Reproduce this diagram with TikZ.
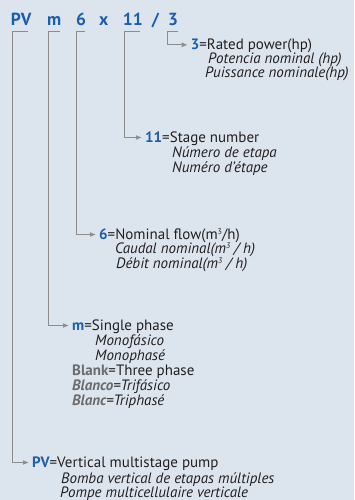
\documentclass[tikz,border=0pt]{standalone}
\usepackage{fontspec}
\setmainfont{PT Sans}
\usetikzlibrary{arrows}

\definecolor{bgblue}{HTML}{DCE5EE}
\definecolor{codeblue}{HTML}{1B5EAA}
\definecolor{linegray}{HTML}{8C8C8C}
\definecolor{blankgray}{HTML}{6B6B6B}
\definecolor{txt}{HTML}{231F20}

\tikzset{
  code/.style={anchor=base west,inner sep=0pt,font=\fontsize{17.5}{17.5}\selectfont\bfseries,text=codeblue},
  desc/.style={anchor=base west,inner sep=0pt,text height=9pt,text depth=0pt,font=\fontsize{15}{15}\selectfont,text=txt},
  trans/.style={desc,font=\fontsize{15}{15}\selectfont\itshape},
  link/.style={draw=linegray,line width=0.9pt,->,shorten >=4pt}
}
\newcommand{\cd}[1]{\textcolor{codeblue}{\bfseries #1}}
\newcommand{\bk}[1]{\textcolor{blankgray}{\bfseries #1}}
\newcommand{\cube}{\raisebox{0.55ex}{\fontsize{8}{8}\selectfont 3}}

\begin{document}
\begin{tikzpicture}[x=1pt,y=-1pt,>=stealth']

\fill[bgblue] (0,0) rectangle (354,500);
\useasboundingbox (0,0) rectangle (354,500);

% model code
\node[code] (hPV)  at (10.7,26) {PV};
\node[code] (hm)   at (47,26)   {m};
\node[code] (h6)   at (76,26)   {6};
\node[code] (hx)   at (99,26)   {x};
\node[code] (h11)  at (122.7,26) {11};
\node[code] (hsl)  at (151.7,26) {/};
\node[code] (h3)   at (168,26)  {3};

% bracket corners
\coordinate (kPV) at (28,31);   \coordinate (cPV) at (12,31);
\coordinate (km)  at (60,31);   \coordinate (cm)  at (48,31);
\coordinate (k6)  at (85,31);   \coordinate (c6)  at (76,31);
\coordinate (k11) at (140,31);  \coordinate (c11) at (124.3,31);
\coordinate (k3)  at (178,31);  \coordinate (c3)  at (167.3,31);

% power
\node[desc]  (d3a) at (190.7,49.3) {\cd{3}=Rated power(hp)};
\node[trans] (d3b) at (208,64)     {Potencia nominal (hp)};
\node[trans] (d3c) at (205,78)     {Puissance nominale(hp)};

% stages
\node[desc]  (d11a) at (145,142) {\cd{11}=Stage number};
\node[trans] (d11b) at (172,157) {Número de etapa};
\node[trans] (d11c) at (172,172) {Numéro d'étape};

% flow
\node[desc]  (d6a) at (99,239)  {\cd{6}=Nominal flow(m\cube/h)};
\node[trans] (d6b) at (115,253) {Caudal nominal(m\cube\ / h)};
\node[trans] (d6c) at (116,268) {Débit nominal(m\cube\ / h)};

% phase
\node[desc]  (dma) at (72,330) {\cd{m}=Single phase};
\node[trans] (dmb) at (95,345) {Monofásico};
\node[trans] (dmc) at (95,360) {Monophasé};
\node[desc]  (dmd) at (72,375) {\bk{Blank}=Three phase};
\node[trans] (dme) at (72,390) {\bk{Blanco}=Trifásico};
\node[trans] (dmf) at (72,405) {\bk{Blanc}=Triphasé};

% pump type
\node[desc]  (dPVa) at (32,467) {\cd{PV}=Vertical multistage pump};
\node[trans] (dPVb) at (61,483) {Bomba vertical de etapas múltiples};
\node[trans] (dPVc) at (60,497) {Pompe multicellulaire verticale};

\draw[link] (k3)  -- (c3)  |- (d3a.west);
\draw[link] (k11) -- (c11) |- (d11a.west);
\draw[link] (k6)  -- (c6)  |- (d6a.west);
\draw[link] (km)  -- (cm)  |- (dma.west);
\draw[link] (kPV) -- (cPV) |- (dPVa.west);

\end{tikzpicture}
\end{document}
